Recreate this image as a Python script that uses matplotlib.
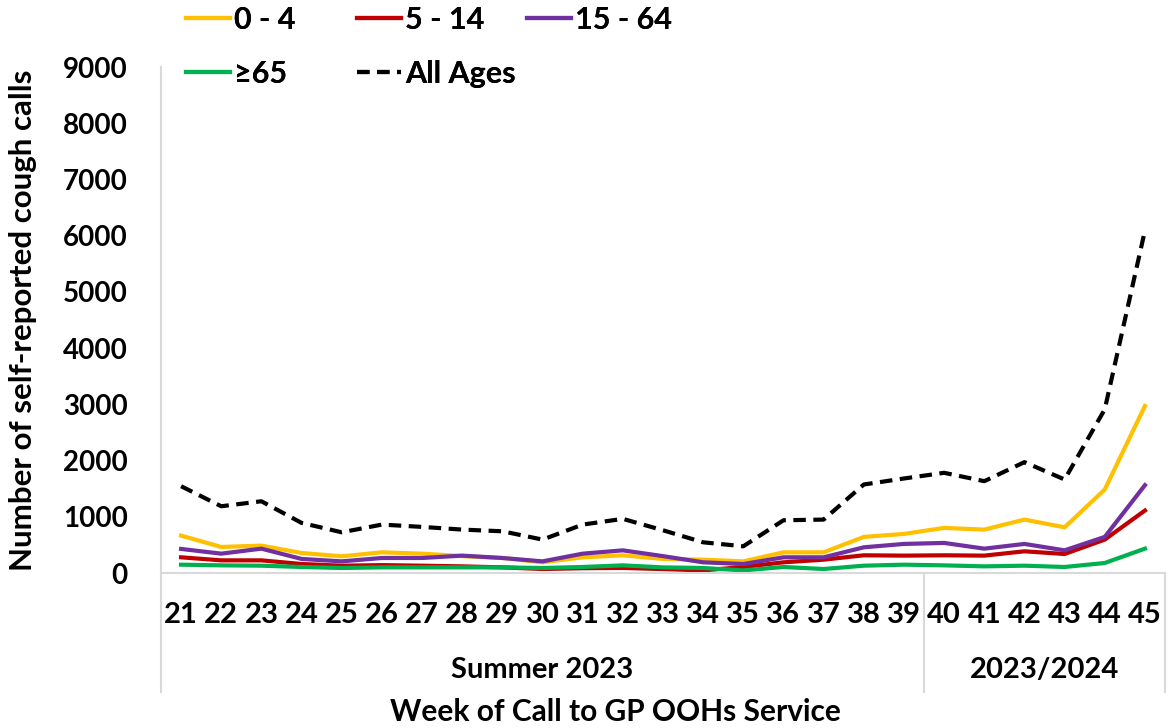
import matplotlib
matplotlib.use("Agg")
import matplotlib.pyplot as plt

plt.rcParams['font.family'] = ['Lato', 'DejaVu Sans']
plt.rcParams['font.weight'] = 'bold'

weeks = ['21', '22', '23', '24', '25', '26', '27', '28', '29', '30', '31', '32', '33',
         '34', '35', '36', '37', '38', '39', '40', '41', '42', '43', '44', '45']
age_0_4 = [665, 463, 487, 356, 297, 368, 344, 300, 267, 190, 279, 315, 250,
           237, 207, 368, 368, 642, 695, 802, 772, 950, 813, 1485, 2970]
age_5_14 = [279, 225, 225, 160, 130, 140, 130, 118, 100, 71, 85, 90, 70,
            46, 107, 190, 237, 315, 309, 315, 309, 386, 338, 594, 1111]
age_15_64 = [428, 344, 433, 250, 207, 267, 267, 309, 267, 207, 344, 403, 300,
             190, 160, 279, 279, 457, 517, 535, 433, 517, 403, 642, 1562]
age_65 = [148, 136, 130, 107, 89, 100, 100, 100, 100, 89, 107, 136, 100,
          89, 46, 107, 71, 130, 148, 136, 118, 130, 107, 178, 433]
all_ages = [1544, 1187, 1276, 891, 724, 861, 820, 772, 742, 594, 861, 963, 760,
            546, 475, 938, 950, 1574, 1681, 1782, 1633, 1972, 1663, 2911, 6090]
groups = ['Summer 2023', '2023/2024']
group_sizes = [19, 6]
yticks = [0, 1000, 2000, 3000, 4000, 5000, 6000, 7000, 8000, 9000]

W, H = 1168, 728
fig = plt.figure(figsize=(W / 100, H / 100), dpi=100)
L, R, B, T = 161, 1165, 573, 67
ax = fig.add_axes([L / W, 1 - B / H, (R - L) / W, (B - T) / H])

x = list(range(len(weeks)))
lw = 3
h1, = ax.plot(x, age_0_4, color='#FFC000', lw=lw, label='0 - 4')
h2, = ax.plot(x, age_5_14, color='#C00000', lw=lw, label='5 - 14')
h3, = ax.plot(x, age_15_64, color='#7030A0', lw=lw, label='15 - 64')
h4, = ax.plot(x, age_65, color='#00B050', lw=lw, label='\u226565')
h5, = ax.plot(x, all_ages, color='black', lw=lw, ls=(0, (3, 1.8)), label='All Ages')

ax.set_xlim(-0.5, len(weeks) - 0.5)
ax.set_ylim(0, 9000)
ax.set_yticks(yticks)
ax.set_yticklabels([str(v) for v in yticks], fontsize=20, fontweight='bold')
ax.set_xticks(x)
ax.set_xticklabels(weeks, fontsize=21, fontweight='bold')
ax.tick_params(axis='y', length=0, pad=24)
ax.tick_params(axis='x', length=0, pad=21)
for s in ['top', 'right']:
    ax.spines[s].set_visible(False)
ax.spines['left'].set_color('#D9D9D9')
ax.spines['bottom'].set_color('#D9D9D9')
ax.spines['left'].set_linewidth(1.5)
ax.spines['bottom'].set_linewidth(1.5)

# hierarchical category axis
trans = ax.get_xaxis_transform()
y_bot = -(692 - B) / (B - T)
bounds = [-0.5]
for g in group_sizes:
    bounds.append(bounds[-1] + g)
for b in bounds:
    ax.plot([b, b], [0, y_bot], transform=trans, color='#D9D9D9', lw=1.5, clip_on=False)
y_grp = -(670 - B) / (B - T)
for i, g in enumerate(groups):
    ax.text((bounds[i] + bounds[i + 1]) / 2, y_grp, g, transform=trans, ha='center', va='center',
            fontsize=21, fontweight='bold')

fig.text(615 / W, 1 - 712 / H, 'Week of Call to GP OOHs Service', ha='center', va='center',
         fontsize=21.5, fontweight='bold')
fig.text(23 / W, 1 - 320 / H, 'Number of self-reported cough calls', ha='center', va='center',
         rotation=90, fontsize=22.5, fontweight='bold')

# legend: three equal-width columns
cols = [[h1, h4], [h2, h5], [h3]]
col_x = [186, 357, 527]
for hs, cx in zip(cols, col_x):
    lg = fig.legend(handles=hs, ncol=1, loc='upper left',
                    bbox_to_anchor=(cx / W, 1 - 6 / H), frameon=False,
                    prop={'size': 22, 'weight': 'bold'}, handlelength=1.45, handletextpad=0.12,
                    labelspacing=0.85, borderaxespad=0, borderpad=0)
    fig.add_artist(lg)

fig.savefig('out.png', dpi=100)
